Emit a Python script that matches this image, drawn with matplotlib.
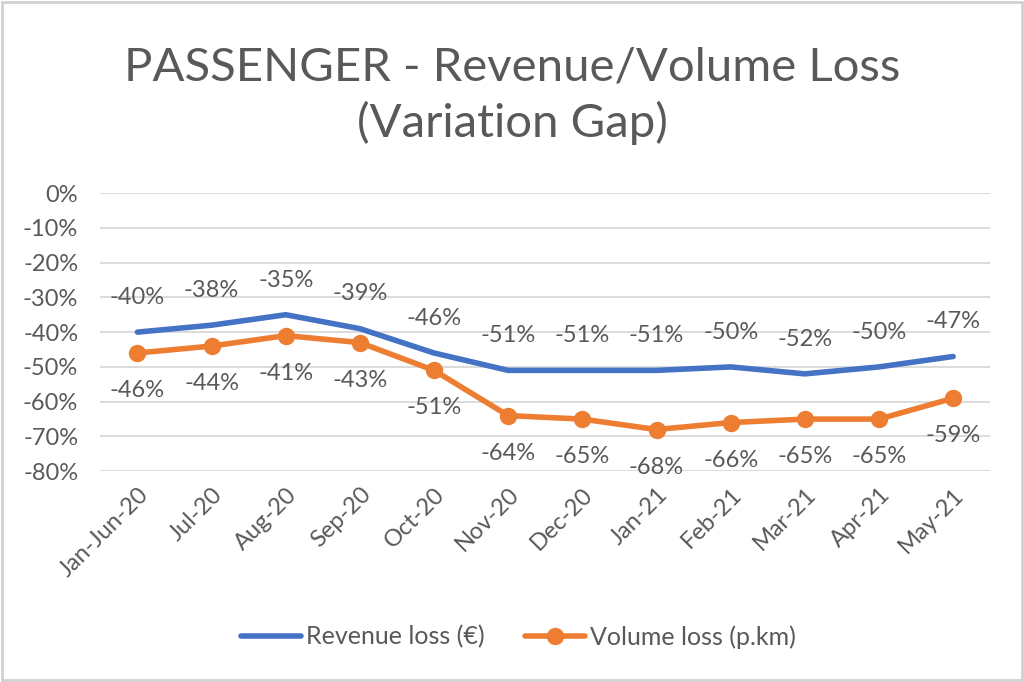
import matplotlib as mpl
mpl.use('Agg')
import matplotlib.pyplot as plt
from matplotlib.patches import Rectangle

# Data
months = ["Jan-Jun-20", "Jul-20", "Aug-20", "Sep-20", "Oct-20", "Nov-20",
          "Dec-20", "Jan-21", "Feb-21", "Mar-21", "Apr-21", "May-21"]
revenue_loss = [-40, -38, -35, -39, -46, -51, -51, -51, -50, -52, -50, -47]
volume_loss = [-46, -44, -41, -43, -51, -64, -65, -68, -66, -65, -65, -59]
yticks = [0, -10, -20, -30, -40, -50, -60, -70, -80]

blue = '#4472C4'
orange = '#ED7D31'
grey = '#595959'

plt.rcParams['font.family'] = ['Lato', 'DejaVu Sans']

fig = plt.figure(figsize=(10.24, 6.82), dpi=100)
ax = fig.add_axes([0.098, 0.309, 0.869, 0.408])

x = list(range(len(months)))
ax.plot(x, revenue_loss, color=blue, lw=4, solid_capstyle='round',
        label='Revenue loss (€)', zorder=3)
ax.plot(x, volume_loss, color=orange, lw=4, marker='o', markersize=11.5,
        solid_capstyle='round', label='Volume loss (p.km)', zorder=3)

for i, v in enumerate(revenue_loss):
    ax.annotate(f"{v}%", (i, v), xytext=(0, 25), textcoords='offset points',
                ha='center', va='center', fontsize=17, color=grey)
for i, v in enumerate(volume_loss):
    ax.annotate(f"{v}%", (i, v), xytext=(0, -27), textcoords='offset points',
                ha='center', va='center', fontsize=17, color=grey)

ax.set_xlim(-0.5, len(months) - 0.5)
ax.set_ylim(-80, 0)
ax.set_yticks(yticks)
ax.set_yticklabels([f"{t}%" for t in yticks])
ax.set_xticks(x)
ax.set_xticklabels(months, rotation=45, ha='right', rotation_mode='anchor')
ax.tick_params(axis='both', length=0, labelsize=17, labelcolor=grey)
ax.tick_params(axis='y', pad=16)
ax.tick_params(axis='x', pad=9)
ax.grid(axis='y', color='#D9D9D9', lw=1.3)
ax.set_axisbelow(True)
for s in ax.spines.values():
    s.set_visible(False)
for line in ax.lines:
    line.set_clip_on(False)

fig.text(0.5, 0.86, "PASSENGER - Revenue/Volume Loss\n(Variation Gap)",
         ha='center', va='center', fontsize=34, color=grey, linespacing=1.35)

fig.legend(loc='center', bbox_to_anchor=(0.506, 0.066), ncol=2, frameon=False,
           fontsize=18, labelcolor=grey, handlelength=2.4, handletextpad=0.2,
           columnspacing=1.6)

fig.patches.append(Rectangle((0.002, 0.003), 0.996, 0.994, transform=fig.transFigure,
                             fill=False, edgecolor='#D0D0D0', lw=2))

fig.savefig('out.png', dpi=100)
